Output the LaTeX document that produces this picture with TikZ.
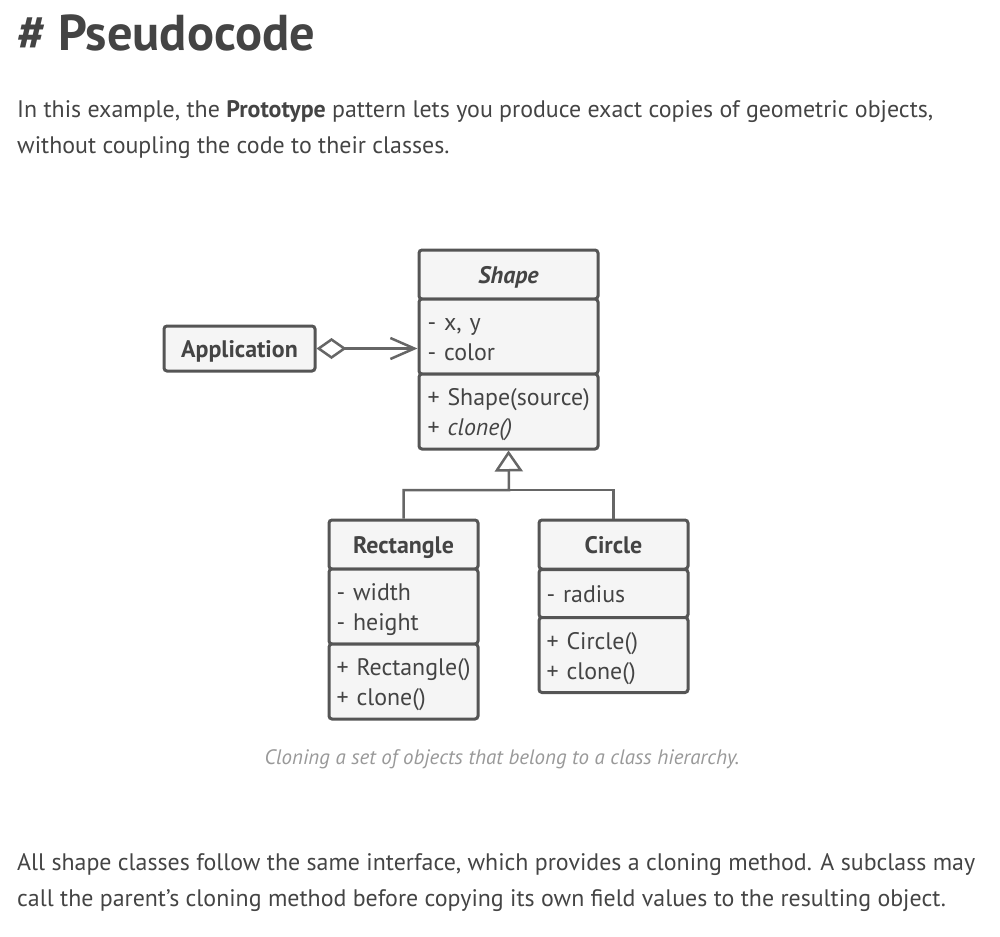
\documentclass[tikz,border=0pt]{standalone}
\usepackage{fontspec}
\setmainfont{PT Sans}
\usetikzlibrary{arrows.meta}
\definecolor{txt}{HTML}{444444}
\definecolor{boxline}{HTML}{555555}
\definecolor{boxfill}{HTML}{F5F5F5}
\definecolor{capt}{HTML}{999999}
\newcommand{\bodyfont}{\fontsize{23.9bp}{30bp}\selectfont}

\begin{document}
\begin{tikzpicture}[x=1bp, y=-1bp, text=txt,
        header/.style={minimum height=49bp, font=\bodyfont\bfseries},
        members/.style={minimum height=75bp, align=left}]
        \useasboundingbox (0,0) rectangle (1000,937);

        % page text
        \begin{scope}[every node/.style={anchor=base west, inner sep=0}]
            \node (title) at (17, 50) {\fontsize{50.4bp}{58bp}\selectfont\bfseries \# Pseudocode};
            \node (introA) at (17, 117) {\bodyfont In this example, the \textbf{Prototype} pattern lets you produce exact copies of geometric objects,};
            \node (introB) at (17, 153) {\bodyfont without coupling the code to their classes.};
            \node (outroA) at (17, 870) {\bodyfont All shape classes follow the same interface, which provides a cloning method. A subclass may};
            \node (outroB) at (17, 906) {\bodyfont call the parent’s cloning method before copying its own field values to the resulting object.};
            \node (caption) [anchor=base, text=capt] at (502, 764) {\fontsize{20.9bp}{26bp}\selectfont\itshape Cloning a set of objects that belong to a class hierarchy.};
        \end{scope}

        % class boxes
        \begin{scope}[every node/.style={draw=boxline, line width=3bp, fill=boxfill, rounded corners=3bp,
                      inner sep=0, font=\bodyfont,
                      execute at begin node={\rule{0pt}{24bp}}, execute at end node={\rule[-6bp]{0pt}{6bp}}}]
            \node (App) [minimum width=151bp, minimum height=45bp, font=\bodyfont\bfseries] at (239.5, 348.5) {Application};

            \node (ShapeH) [header, minimum width=179bp, font=\bodyfont\bfseries\itshape] at (508.5, 274.5) {Shape};
            \node (ShapeA) [members, minimum width=179bp, text width=162bp] at (508.5, 336.5) {\mbox{- x, y}\\\mbox{- color}};
            \node (ShapeM) [members, minimum width=179bp, text width=162bp] at (508.5, 411.5) {\mbox{+ Shape(source)}\\\mbox{+ \textit{clone()}}};

            \node (RectH) [header, minimum width=149bp] at (403.5, 544.5) {Rectangle};
            \node (RectA) [members, minimum width=149bp, text width=134bp] at (403.5, 606.5) {\mbox{- width}\\\mbox{- height}};
            \node (RectM) [members, minimum width=149bp, text width=134bp] at (403.5, 681.5) {\mbox{+ Rectangle()}\\\mbox{+ clone()}};

            \node (CircH) [header, minimum width=149bp] at (613.5, 544.5) {Circle};
            \node (CircA) [members, minimum width=149bp, minimum height=48bp, text width=134bp] at (613.5, 593.5) {\mbox{- radius}};
            \node (CircM) [members, minimum width=149bp, text width=134bp] at (613.5, 655) {\mbox{+ Circle()}\\\mbox{+ clone()}};
        \end{scope}

        % relations
        \coordinate (hub) at (509, 490);
        \begin{scope}[every path/.style={draw=boxline!90, line width=2.5bp}]
            \path [{Diamond[open, fill=white, length=30bp, width=21bp]}-{Straight Barb[length=24bp, width=21bp]}] (App.east) -- (ShapeA.west |- App.east);
            \path [-{Triangle[open, fill=white, length=21bp, width=28bp]}] (RectH.north) |- (hub) -- (ShapeM.south);
            \path (CircH.north) |- (hub);
        \end{scope}
    \end{tikzpicture}
\end{document}
